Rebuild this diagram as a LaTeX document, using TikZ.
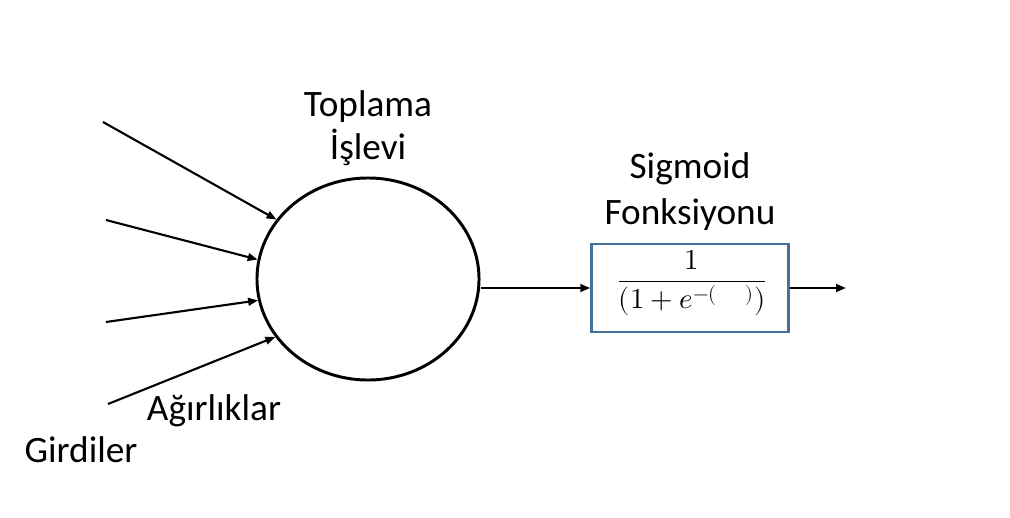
\documentclass[tikz,border=0pt]{standalone}
\usepackage{unicode-math}
\setmainfont{Carlito}
\setmathfont{Latin Modern Math}
\usepackage{tikz}
\usetikzlibrary{shapes}
\usetikzlibrary{arrows.meta}
\usetikzlibrary{calc}
\definecolor{bleuboite}{RGB}{65,113,156}
\tikzstyle{somme}=[
        ellipse,
        draw,
        line width=2.1pt,
        minimum width=5.55cm,
        minimum height=5.05cm,
        inner sep=0pt
]
\tikzstyle{sigmoide}=[rectangle,draw=bleuboite,line width=2pt,minimum width=4.92cm,minimum height=2.2cm,inner sep=0pt]
\tikzstyle{etiquette}=[align=center,inner sep=0pt,font=\fontsize{26.5}{30.6}\selectfont]
\tikzstyle{fleche}=[-{Triangle[length=7pt,width=5.5pt]},line width=1.5pt]

\begin{document}
\begin{tikzpicture}[x=0.025cm,y=-0.025cm]
\useasboundingbox (0,0) rectangle (1010,518);
\node[somme] (somme) at (368,279) {};
\node[sigmoide] (sigmoide) at (690,288) {};
\node (fraction) at (692,283) {\fontsize{20.5}{24}\selectfont$\displaystyle\frac{1}{(1+e^{-(\quad)})}$};
\node[etiquette,anchor=base] (toplama) at (368,160) {Toplama\\İşlevi};
\node[etiquette,anchor=base] (sigmoid) at (690,224) {Sigmoid\\[2pt]Fonksiyonu};
\node[etiquette,anchor=base] (agirliklar) at (214,420) {Ağırlıklar};
\node[etiquette,anchor=base] (girdiler) at (81,462) {Girdiler};
\coordinate (g1) at (103,122);
\coordinate (g2) at (106,220);
\coordinate (g3) at (106,322);
\coordinate (g4) at (108,404);
\coordinate (cikis) at (846,288);
%Placementdesflèches
\draw[fleche] (g1) -- (somme.147);
\draw[fleche] (g2) -- (somme.170);
\draw[fleche] (g3) -- (somme.191);
\draw[fleche] (g4) -- (somme.212);
\draw[fleche] (somme.east |- sigmoide.west) -- (sigmoide.west);
\draw[fleche] (sigmoide.east) -- (cikis);
\end{tikzpicture}
\end{document}
